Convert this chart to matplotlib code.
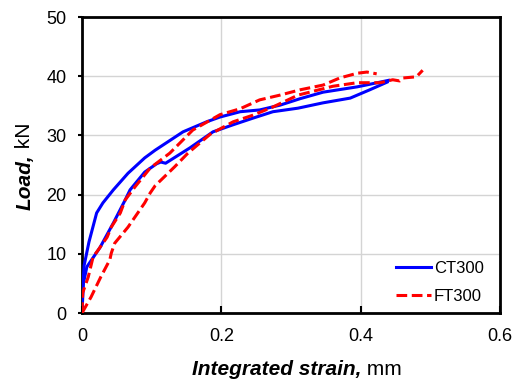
import matplotlib.pyplot as plt
import numpy as np

plt.rcParams['font.family'] = ['Liberation Sans', 'DejaVu Sans']

# CT300 - two specimens (blue solid)
ct_a_x = [0, 0.001, 0.003, 0.01, 0.021, 0.03, 0.045, 0.066, 0.09, 0.105, 0.145, 0.179,
          0.198, 0.227, 0.255, 0.284, 0.313, 0.346, 0.395, 0.428, 0.44]
ct_a_y = [0, 4, 8, 12, 16.9, 18.6, 20.8, 23.6, 26.2, 27.5, 30.6, 32.3,
          33.1, 34, 34.3, 35.1, 36.2, 37.3, 38.2, 39, 39.3]
ct_b_x = [0, 0.002, 0.007, 0.026, 0.045, 0.062, 0.069, 0.09, 0.107, 0.113, 0.12, 0.155,
          0.188, 0.217, 0.245, 0.274, 0.31, 0.346, 0.385, 0.413, 0.438]
ct_b_y = [0, 5, 7.8, 11.1, 15.2, 19.1, 20.8, 23.8, 25.2, 25.5, 25.3, 27.9,
          30.6, 31.8, 32.9, 34, 34.6, 35.5, 36.3, 37.7, 39]

# FT300 - two specimens (red dashed)
ft_a_x = [0, 0.001, 0.009, 0.016, 0.023, 0.036, 0.042, 0.055, 0.062, 0.076, 0.098, 0.126,
          0.159, 0.198, 0.227, 0.255, 0.284, 0.313, 0.346, 0.37, 0.395, 0.409, 0.423]
ft_a_y = [0, 3.4, 6.1, 9.5, 10.6, 12.8, 14.5, 16.9, 19.1, 21.3, 24.5, 27,
          30.9, 33.5, 34.5, 36, 36.8, 37.7, 38.5, 39.7, 40.5, 40.7, 40.4]
ft_b_x = [0, 0.013, 0.027, 0.04, 0.042, 0.047, 0.066, 0.09, 0.098, 0.105, 0.133, 0.152,
          0.184, 0.217, 0.245, 0.274, 0.31, 0.36, 0.395, 0.428, 0.446, 0.456, 0.461, 0.48, 0.489]
ft_b_y = [0, 2.7, 6.1, 9, 10.1, 11.8, 14.5, 18.6, 20.3, 21.5, 24.7, 27,
          30.2, 32.3, 33.4, 34.8, 36.8, 38.3, 38.9, 38.9, 39.4, 39.2, 39.7, 39.9, 41]

xticks = [0, 0.2, 0.4, 0.6]
xtick_labels = ['0', '0.2', '0.4', '0.6']
yticks = [0, 10, 20, 30, 40, 50]

fig = plt.figure(figsize=(5.15, 3.8), dpi=100)
ax = fig.add_axes([82/515, 1-313/380, 418/515, 296/380])

blue = '#0000ff'
red = '#ff0000'
dash = (3.5, 1.5)

ax.plot(ct_a_x, ct_a_y, c=blue, lw=2.2, label='CT300', zorder=3)
ax.plot(ct_b_x, ct_b_y, c=blue, lw=2.2, zorder=3)
ax.plot(ft_a_x, ft_a_y, c=red, lw=2.2, dashes=dash, label='FT300', zorder=4)
ax.plot(ft_b_x, ft_b_y, c=red, lw=2.2, dashes=dash, zorder=4)

ax.set_xlim(0, 0.6)
ax.set_ylim(0, 50)
ax.set_xticks(xticks)
ax.set_xticklabels(xtick_labels)
ax.set_yticks(yticks)
ax.grid(True, color='#d4d4d4', lw=1)
ax.set_axisbelow(True)
for s in ax.spines.values():
    s.set_linewidth(2)
ax.tick_params(axis='x', direction='in', length=5, width=1.5, pad=11, labelsize=13)
ax.tick_params(axis='y', direction='out', length=3, width=1.5, pad=8, labelsize=13)

leg = ax.legend(loc='lower right', frameon=False, fontsize=12, handlelength=2.1,
                handletextpad=0.2, labelspacing=0.8, borderaxespad=0.2,
                bbox_to_anchor=(0.985, -0.003))

# axis labels: bold italic part + regular part
t1 = fig.text(192/515, 1-375/380, 'Integrated strain,', fontsize=15,
              fontweight='bold', fontstyle='italic', va='baseline', ha='left')
ax.annotate(' mm', xy=(1, 0), xycoords=t1, fontsize=15, va='bottom', ha='left')
t2 = fig.text(25/515, 1-210/380, 'Load,', fontsize=15, fontweight='bold',
              fontstyle='italic', rotation=90, ha='center', va='bottom')
ax.annotate(' kN', xy=(0.5, 1), xycoords=t2, fontsize=15, rotation=90,
            ha='center', va='bottom')

fig.savefig('out.png', dpi=100)
